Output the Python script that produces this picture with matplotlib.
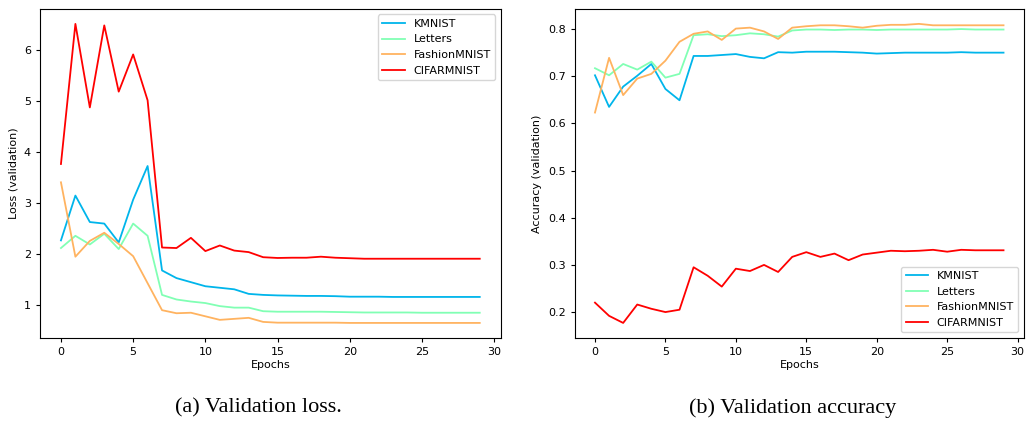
import numpy as np
import matplotlib
matplotlib.use("Agg")
import matplotlib.pyplot as plt

epochs = list(range(30))
names = ["KMNIST", "Letters", "FashionMNIST", "CIFARMNIST"]

loss_kmnist = [2.27, 3.15, 2.63, 2.60, 2.23, 3.07, 3.73, 1.68, 1.53, 1.45, 1.37, 1.34, 1.31, 1.22, 1.20,
               1.19, 1.185, 1.18, 1.18, 1.175, 1.165, 1.165, 1.165, 1.16, 1.16, 1.16, 1.16, 1.16, 1.16, 1.16]
loss_letters = [2.12, 2.36, 2.19, 2.40, 2.10, 2.60, 2.36, 1.20, 1.11, 1.07, 1.04, 0.98, 0.95, 0.95, 0.88,
                0.87, 0.87, 0.87, 0.87, 0.865, 0.86, 0.855, 0.855, 0.855, 0.855, 0.85, 0.85, 0.85, 0.85, 0.85]
loss_fashion = [3.41, 1.95, 2.26, 2.42, 2.20, 1.96, 1.43, 0.90, 0.84, 0.85, 0.78, 0.71, 0.73, 0.75, 0.67,
                0.655, 0.655, 0.655, 0.655, 0.655, 0.65, 0.65, 0.65, 0.65, 0.65, 0.65, 0.65, 0.65, 0.65, 0.65]
loss_cifar = [3.77, 6.52, 4.88, 6.49, 5.19, 5.92, 5.02, 2.13, 2.12, 2.32, 2.06, 2.17, 2.07, 2.04, 1.94,
              1.925, 1.93, 1.93, 1.95, 1.93, 1.92, 1.91, 1.91, 1.91, 1.91, 1.91, 1.91, 1.91, 1.91, 1.91]

acc_kmnist = [0.702, 0.635, 0.678, 0.701, 0.726, 0.673, 0.649, 0.743, 0.743, 0.745, 0.747, 0.741, 0.738, 0.751, 0.750,
              0.752, 0.752, 0.752, 0.751, 0.750, 0.748, 0.749, 0.750, 0.750, 0.750, 0.750, 0.751, 0.750, 0.750, 0.750]
acc_letters = [0.717, 0.702, 0.726, 0.714, 0.731, 0.697, 0.705, 0.787, 0.789, 0.785, 0.787, 0.791, 0.789, 0.784, 0.797,
               0.799, 0.799, 0.798, 0.799, 0.799, 0.798, 0.799, 0.799, 0.799, 0.799, 0.799, 0.800, 0.799, 0.799, 0.799]
acc_fashion = [0.623, 0.739, 0.660, 0.695, 0.705, 0.733, 0.773, 0.790, 0.795, 0.777, 0.801, 0.803, 0.795, 0.779, 0.803,
               0.806, 0.808, 0.808, 0.806, 0.803, 0.807, 0.809, 0.809, 0.811, 0.808, 0.808, 0.808, 0.808, 0.808, 0.808]
acc_cifar = [0.220, 0.192, 0.177, 0.216, 0.207, 0.200, 0.205, 0.295, 0.277, 0.254, 0.292, 0.287, 0.300, 0.285, 0.317,
             0.327, 0.317, 0.324, 0.310, 0.322, 0.326, 0.330, 0.329, 0.330, 0.332, 0.328, 0.332, 0.331, 0.331, 0.331]

losses = [loss_kmnist, loss_letters, loss_fashion, loss_cifar]
accs = [acc_kmnist, acc_letters, acc_fashion, acc_cifar]
colors = plt.cm.rainbow(np.linspace(0, 1, 5))[1:]

plt.rcParams['font.family'] = ['DejaVu Sans']
plt.rcParams['font.size'] = 8

fig = plt.figure(figsize=(10.26, 4.25), dpi=100)
ax1 = fig.add_axes([0.039, 0.205, 0.449, 0.774])
ax2 = fig.add_axes([0.560, 0.205, 0.438, 0.774])

for name, vals, c in zip(names, losses, colors):
    ax1.plot(epochs, vals, color=c, label=name, lw=1.3)
for name, vals, c in zip(names, accs, colors):
    ax2.plot(epochs, vals, color=c, label=name, lw=1.3)

ax1.set_xlabel("Epochs", fontsize=8, labelpad=2)
ax1.set_ylabel("Loss (validation)", fontsize=8)
ax2.set_xlabel("Epochs", fontsize=8, labelpad=2)
ax2.set_ylabel("Accuracy (validation)", fontsize=8)
ax1.set_xticks([0, 5, 10, 15, 20, 25, 30])
ax2.set_xticks([0, 5, 10, 15, 20, 25, 30])
for ax in (ax1, ax2):
    ax.tick_params(labelsize=8, length=3)

ax1.legend(loc="upper right", fontsize=8)
ax2.legend(loc="lower right", fontsize=8)

fig.text(0.252, 0.04, "(a) Validation loss.", ha="center", va="center",
         fontsize=16, family=["Liberation Serif", "DejaVu Serif"])
fig.text(0.773, 0.04, "(b) Validation accuracy", ha="center", va="center",
         fontsize=16, family=["Liberation Serif", "DejaVu Serif"])

fig.savefig("out.png", dpi=100)
